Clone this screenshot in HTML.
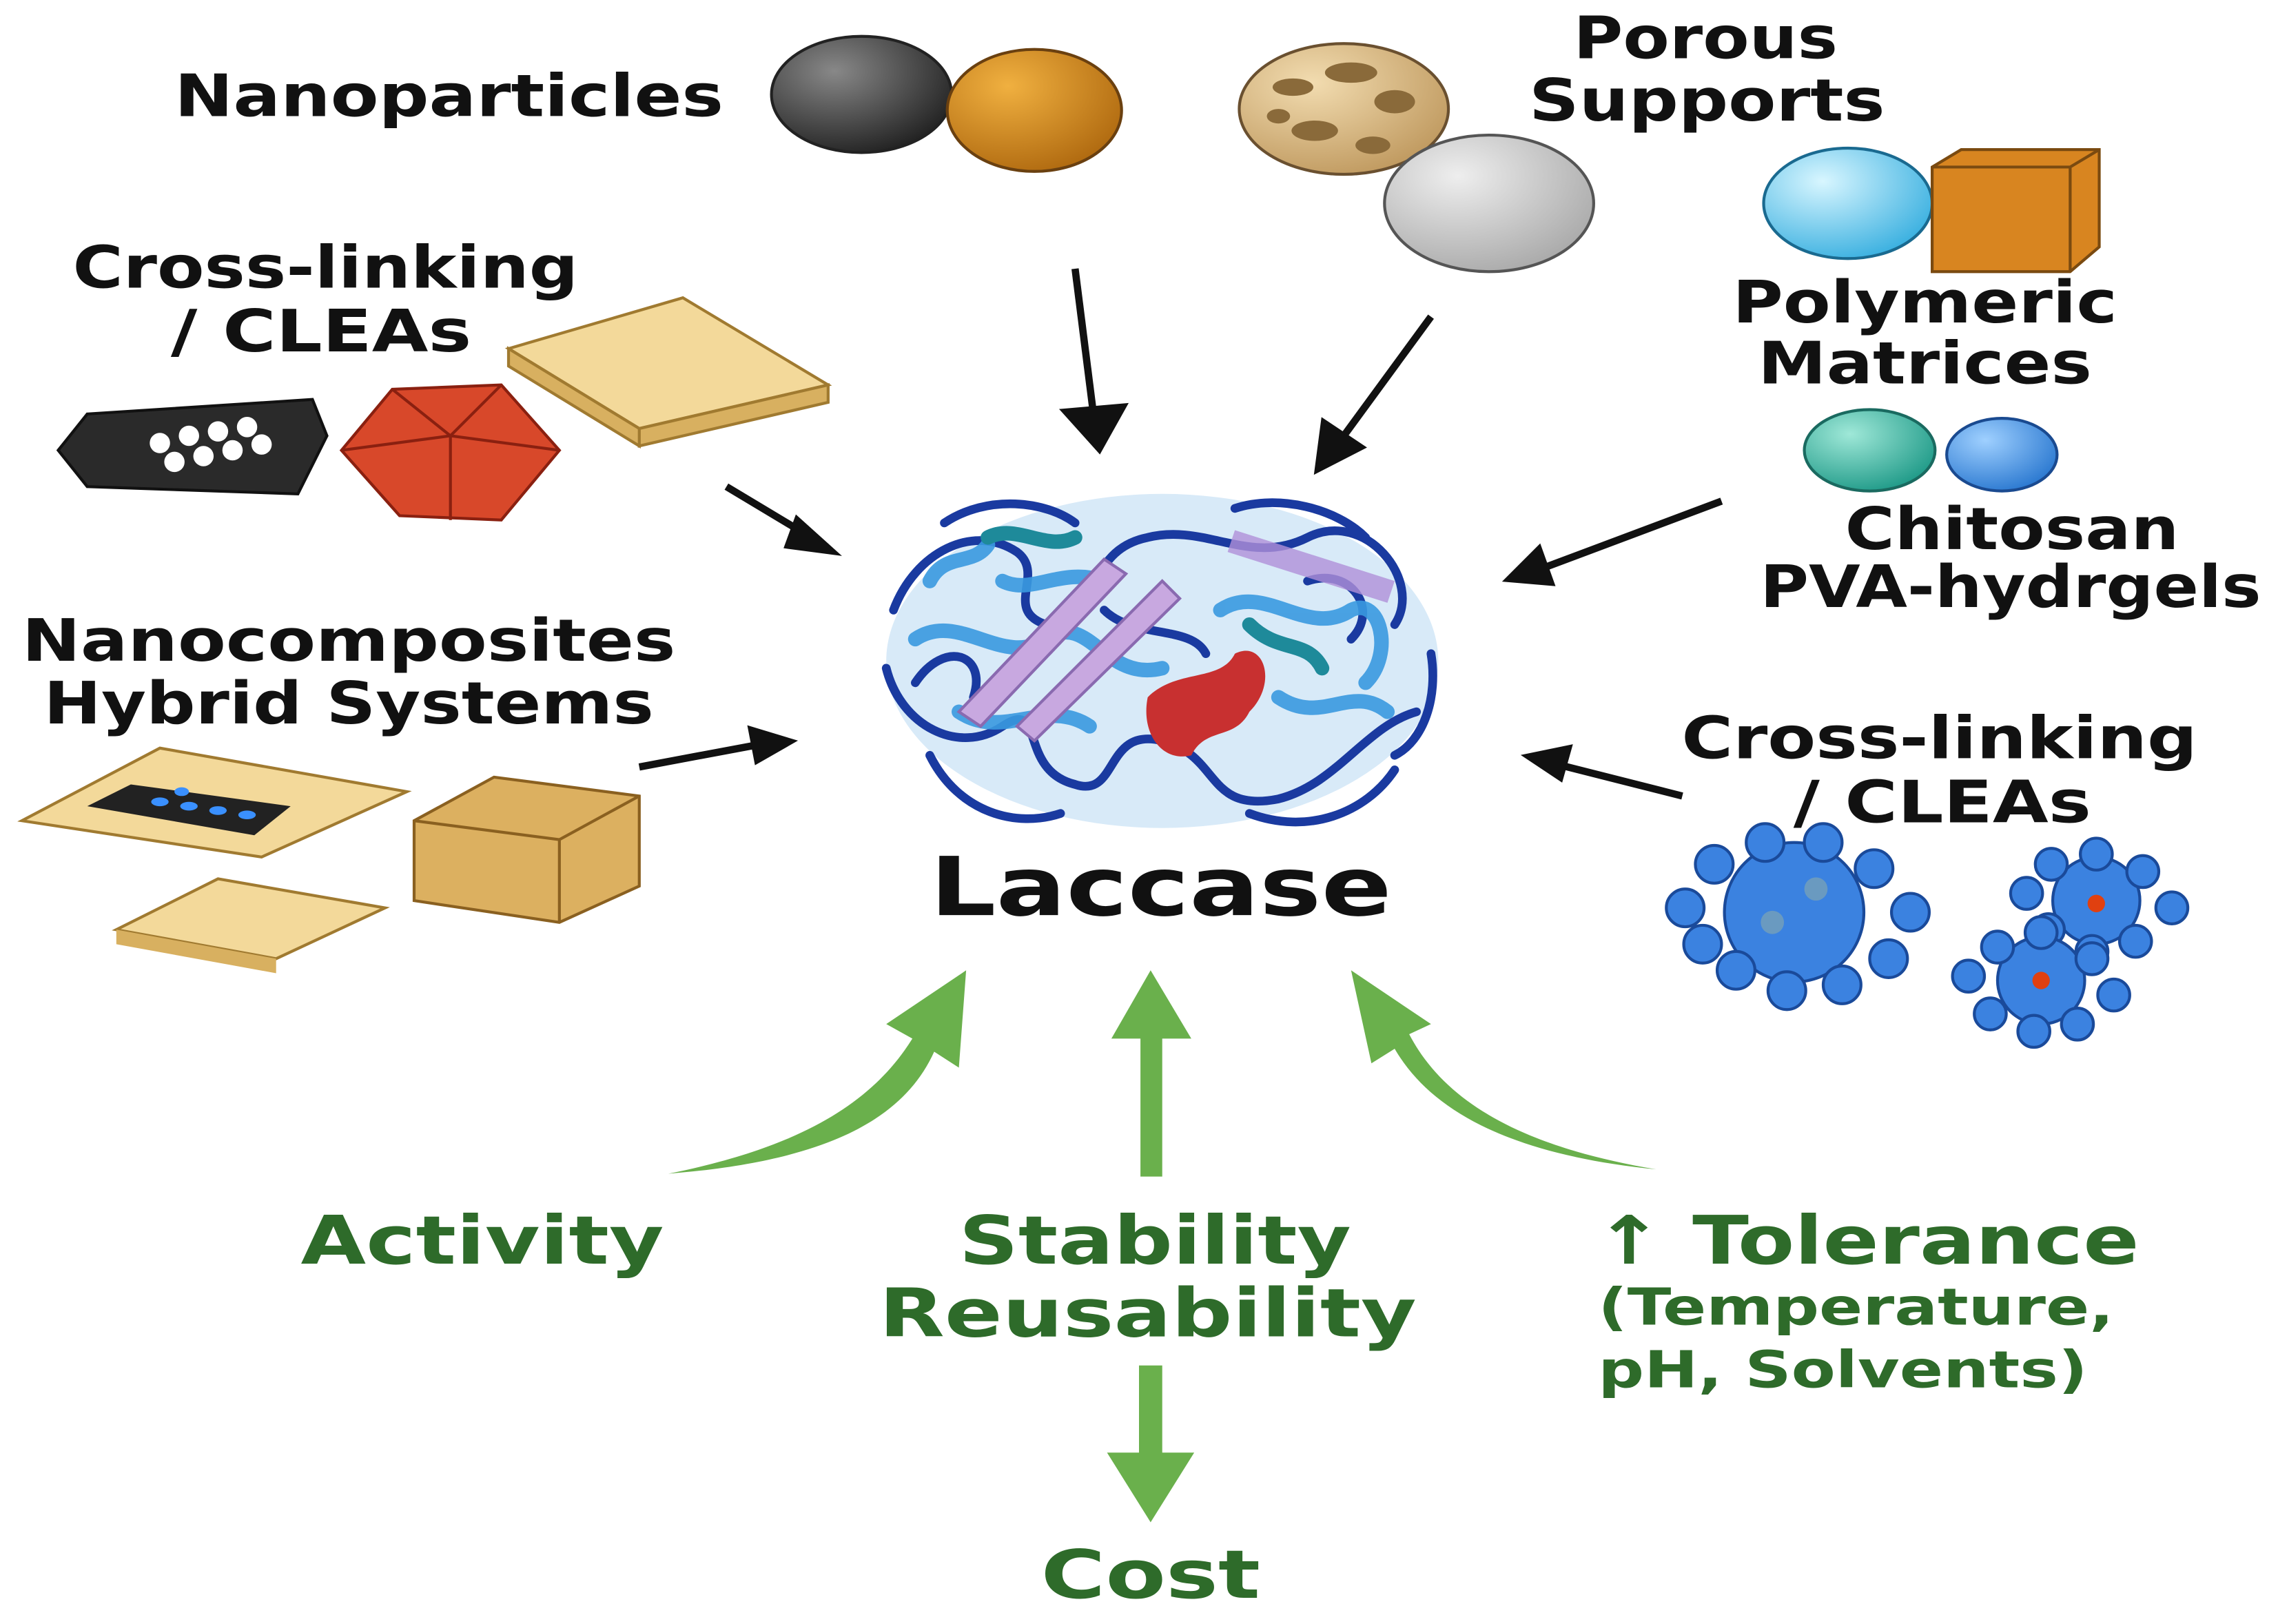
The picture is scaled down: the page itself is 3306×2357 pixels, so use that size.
<!DOCTYPE html>
<html><head><meta charset="utf-8"><style>
html,body{margin:0;padding:0;background:#fff;}
svg{display:block}
text{font-family:"DejaVu Sans","Liberation Sans",sans-serif;font-weight:bold;}
</style></head><body>
<svg width="3306" height="2357" viewBox="0 0 1568 1118" xmlns="http://www.w3.org/2000/svg">
<defs>
<radialGradient id="gd" cx="35%" cy="30%" r="75%"><stop offset="0" stop-color="#888"/><stop offset="1" stop-color="#222"/></radialGradient>
<radialGradient id="go" cx="35%" cy="30%" r="75%"><stop offset="0" stop-color="#f0b040"/><stop offset="1" stop-color="#b06a10"/></radialGradient>
<radialGradient id="gb" cx="35%" cy="30%" r="75%"><stop offset="0" stop-color="#f2dcb0"/><stop offset="1" stop-color="#c09a60"/></radialGradient>
<radialGradient id="gg" cx="35%" cy="30%" r="75%"><stop offset="0" stop-color="#eee"/><stop offset="1" stop-color="#aaa"/></radialGradient>
<radialGradient id="gc" cx="35%" cy="30%" r="75%"><stop offset="0" stop-color="#d8f6ff"/><stop offset="1" stop-color="#3ab0e0"/></radialGradient>
<radialGradient id="gt" cx="35%" cy="30%" r="75%"><stop offset="0" stop-color="#9fe8d8"/><stop offset="1" stop-color="#1f9a88"/></radialGradient>
<radialGradient id="gbl" cx="35%" cy="30%" r="75%"><stop offset="0" stop-color="#9fd0ff"/><stop offset="1" stop-color="#2a78d0"/></radialGradient>
</defs>

<g fill="#111" font-size="40" text-anchor="middle" lengthAdjust="spacingAndGlyphs">
<text x="309" y="80" textLength="378" lengthAdjust="spacingAndGlyphs">Nanoparticles</text>
<text x="1174" y="40" textLength="182" lengthAdjust="spacingAndGlyphs">Porous</text>
<text x="1175" y="83" textLength="245" lengthAdjust="spacingAndGlyphs">Supports</text>
<text x="1325" y="222" textLength="265" lengthAdjust="spacingAndGlyphs">Polymeric</text>
<text x="1325" y="264" textLength="230" lengthAdjust="spacingAndGlyphs">Matrices</text>
<text x="1385" y="378" textLength="230" lengthAdjust="spacingAndGlyphs">Chitosan</text>
<text x="1384" y="418" textLength="345" lengthAdjust="spacingAndGlyphs">PVA-hydrgels</text>
<text x="224" y="198" textLength="348" lengthAdjust="spacingAndGlyphs">Cross-linking</text>
<text x="221" y="242" textLength="207" lengthAdjust="spacingAndGlyphs">/ CLEAs</text>
<text x="240" y="455" textLength="450" lengthAdjust="spacingAndGlyphs">Nanocomposites</text>
<text x="240" y="498" textLength="420" lengthAdjust="spacingAndGlyphs">Hybrid Systems</text>
<text x="1335" y="522" textLength="355" lengthAdjust="spacingAndGlyphs">Cross-linking</text>
<text x="1337" y="566" textLength="205" lengthAdjust="spacingAndGlyphs">/ CLEAs</text>
<text x="799" y="630" font-size="56" textLength="318" lengthAdjust="spacingAndGlyphs">Laccase</text>
</g>

<ellipse cx="593" cy="65" rx="62" ry="40" fill="url(#gd)" stroke="#222" stroke-width="2"/>
<ellipse cx="712" cy="76" rx="60" ry="42" fill="url(#go)" stroke="#6a4010" stroke-width="2"/>
<ellipse cx="925" cy="75" rx="72" ry="45" fill="url(#gb)" stroke="#6a5030" stroke-width="2"/>
<g fill="#8a6a3a"><ellipse cx="890" cy="60" rx="14" ry="6"/><ellipse cx="930" cy="50" rx="18" ry="7"/><ellipse cx="960" cy="70" rx="14" ry="8"/><ellipse cx="905" cy="90" rx="16" ry="7"/><ellipse cx="945" cy="100" rx="12" ry="6"/><ellipse cx="880" cy="80" rx="8" ry="5"/></g>
<ellipse cx="1025" cy="140" rx="72" ry="47" fill="url(#gg)" stroke="#555" stroke-width="2"/>
<ellipse cx="1272" cy="140" rx="58" ry="38" fill="url(#gc)" stroke="#1a6a90" stroke-width="2"/>
<path d="M1330,115 L1350,103 L1445,103 L1445,170 L1425,187 L1330,187 Z" fill="#d88520" stroke="#7a4a10" stroke-width="2"/>
<path d="M1330,115 L1425,115 L1445,103 M1425,115 L1425,187" fill="none" stroke="#7a4a10" stroke-width="2"/>
<ellipse cx="1287" cy="310" rx="45" ry="28" fill="url(#gt)" stroke="#1a6a60" stroke-width="2"/>
<ellipse cx="1378" cy="313" rx="38" ry="25" fill="url(#gbl)" stroke="#1a4a90" stroke-width="2"/>

<path d="M60,285 L215,275 L225,300 L205,340 L60,335 L40,310 Z" fill="#2a2a2a" stroke="#111" stroke-width="2"/>
<g fill="#fff"><circle cx="110" cy="305" r="7"/><circle cx="130" cy="300" r="7"/><circle cx="150" cy="297" r="7"/><circle cx="170" cy="294" r="7"/><circle cx="120" cy="318" r="7"/><circle cx="140" cy="314" r="7"/><circle cx="160" cy="310" r="7"/><circle cx="180" cy="306" r="7"/></g>
<path d="M270,268 L345,265 L385,310 L345,358 L275,355 L235,310 Z" fill="#d8482a" stroke="#8a2010" stroke-width="2"/>
<path d="M270,268 L310,300 L345,265 M310,300 L235,310 M310,300 L385,310 M310,300 L310,358" stroke="#8a2010" fill="none" stroke-width="2"/>
<path d="M350,240 L470,205 L570,265 L440,295 Z" fill="#f3d99a" stroke="#a07a30" stroke-width="2"/>
<path d="M350,240 L440,295 L440,307 L350,252 Z M440,295 L570,265 L570,277 L440,307 Z" fill="#d8b060" stroke="#a07a30" stroke-width="2"/>

<path d="M15,565 L110,515 L280,545 L180,590 Z" fill="#f3d99a" stroke="#a07a30" stroke-width="2"/>
<path d="M60,555 L90,540 L200,555 L175,575 Z" fill="#222"/>
<g fill="#3a90ff"><ellipse cx="110" cy="552" rx="6" ry="3"/><ellipse cx="130" cy="555" rx="6" ry="3"/><ellipse cx="150" cy="558" rx="6" ry="3"/><ellipse cx="170" cy="561" rx="6" ry="3"/><ellipse cx="125" cy="545" rx="5" ry="3"/></g>
<path d="M285,565 L340,535 L440,548 L440,610 L385,635 L285,620 Z" fill="#dcb060" stroke="#8a6020" stroke-width="2"/>
<path d="M285,565 L385,578 L440,548 M385,578 L385,635" fill="none" stroke="#8a6020" stroke-width="2"/>
<path d="M80,640 L150,605 L265,625 L190,660 Z" fill="#f3d99a" stroke="#a07a30" stroke-width="2"/>
<path d="M80,640 L190,660 L190,670 L80,650 Z" fill="#d8b060"/>

<g fill="#3b82e0" stroke="#1a4a9a" stroke-width="2">
<circle cx="1235" cy="628" r="48"/>
<circle cx="1160" cy="625" r="13"/><circle cx="1180" cy="595" r="13"/><circle cx="1215" cy="580" r="13"/><circle cx="1255" cy="580" r="13"/><circle cx="1290" cy="598" r="13"/><circle cx="1315" cy="628" r="13"/><circle cx="1300" cy="660" r="13"/><circle cx="1268" cy="678" r="13"/><circle cx="1230" cy="682" r="13"/><circle cx="1195" cy="668" r="13"/><circle cx="1172" cy="650" r="13"/>
<circle cx="1443" cy="620" r="30"/>
<circle cx="1443" cy="588" r="11"/><circle cx="1475" cy="600" r="11"/><circle cx="1495" cy="625" r="11"/><circle cx="1470" cy="648" r="11"/><circle cx="1440" cy="655" r="11"/><circle cx="1410" cy="640" r="11"/><circle cx="1395" cy="615" r="11"/><circle cx="1412" cy="595" r="11"/>
<circle cx="1405" cy="675" r="30"/>
<circle cx="1405" cy="642" r="11"/><circle cx="1440" cy="660" r="11"/><circle cx="1455" cy="685" r="11"/><circle cx="1430" cy="705" r="11"/><circle cx="1400" cy="710" r="11"/><circle cx="1370" cy="698" r="11"/><circle cx="1355" cy="672" r="11"/><circle cx="1375" cy="652" r="11"/>
</g>
<circle cx="1250" cy="612" r="8" fill="#6a9ac0"/><circle cx="1220" cy="635" r="8" fill="#6a9ac0"/>
<circle cx="1443" cy="622" r="6" fill="#e04010"/><circle cx="1405" cy="675" r="6" fill="#e04010"/>

<g>
<ellipse cx="800" cy="455" rx="190" ry="115" fill="#d8eaf8"/>
<g fill="none" stroke="#1a3aa0" stroke-width="6" stroke-linecap="round">
<path d="M615,420 C630,380 670,360 700,380 C720,395 690,420 720,430 C760,440 740,380 790,370 C830,360 860,390 900,370 C940,350 980,400 960,430"/>
<path d="M610,460 C620,500 660,520 690,500 C720,480 700,530 740,540 C770,550 760,500 800,510 C840,520 830,560 880,550 C920,540 940,500 975,490"/>
<path d="M640,520 C660,560 700,570 730,560 M860,560 C900,575 940,560 960,530 M985,450 C990,480 980,510 960,520"/>
<path d="M650,360 C680,340 720,345 740,360 M850,350 C880,340 920,350 940,370"/>
<path d="M630,470 C650,440 680,450 670,480 M900,400 C930,390 950,420 930,440 M760,420 C780,440 820,430 830,450"/>
</g>
<g fill="none" stroke="#3a9ae0" stroke-width="10" stroke-linecap="round" opacity="0.9">
<path d="M630,440 C660,420 690,460 720,440 C750,420 760,470 800,460"/>
<path d="M840,420 C870,400 900,440 930,420 C950,410 960,450 940,470"/>
<path d="M660,490 C690,510 720,480 750,500 M880,480 C910,500 930,470 955,490"/>
<path d="M690,400 C710,410 730,390 760,400 M640,400 C650,380 670,390 680,375"/>
</g>
<g fill="none" stroke="#1e8a9a" stroke-width="10" stroke-linecap="round">
<path d="M680,370 C700,360 720,380 740,370 M860,430 C880,450 900,440 910,460"/>
</g>
<path d="M660,490 L760,385 L775,395 L675,500 Z" fill="#c8a8e0" stroke="#8a6ab0" stroke-width="2"/>
<path d="M700,500 L800,400 L812,412 L712,510 Z" fill="#c8a8e0" stroke="#8a6ab0" stroke-width="2"/>
<path d="M850,365 L960,400 L955,415 L845,380 Z" fill="#b090d8" opacity="0.8"/>
<path d="M790,480 C810,460 840,470 850,450 C870,440 880,470 860,490 C850,510 830,500 820,520 C800,525 785,505 790,480 Z" fill="#c83030"/>
</g>

<g fill="#111" stroke="#111">
<path d="M740,185 L752,280" stroke-width="5"/><path d="M730,282 L776,278 L757,312 Z"/>
<path d="M985,218 L925,300" stroke-width="5"/><path d="M910,288 L940,308 L905,326 Z"/>
<path d="M500,335 L555,368" stroke-width="5"/><path d="M548,355 L578,382 L540,377 Z"/>
<path d="M1185,345 L1065,390" stroke-width="5"/><path d="M1060,375 L1070,403 L1035,400 Z"/>
<path d="M440,528 L520,513" stroke-width="5"/><path d="M515,500 L548,510 L520,526 Z"/>
<path d="M1158,548 L1075,527" stroke-width="5"/><path d="M1082,513 L1048,520 L1075,538 Z"/>
</g>

<g fill="#6ab04c">
<path d="M460,808 C550,790 600,760 628,715 L610,705 L665,668 L660,735 L643,724 C620,775 560,800 460,808 Z"/>
<path d="M785,810 L785,715 L765,715 L792,668 L820,715 L800,715 L800,810 Z"/>
<path d="M1140,805 C1040,795 985,765 960,722 L944,732 L930,668 L985,705 L970,712 C995,760 1050,790 1140,805 Z"/>
<path d="M784,940 L800,940 L800,1000 L822,1000 L792,1048 L762,1000 L784,1000 Z"/>
</g>

<g fill="#2e6b2a" text-anchor="middle" font-size="46">
<text x="332" y="870" textLength="250" lengthAdjust="spacingAndGlyphs">Activity</text>
<text x="795" y="870" textLength="270" lengthAdjust="spacingAndGlyphs">Stability</text>
<text x="790" y="920" textLength="370" lengthAdjust="spacingAndGlyphs">Reusability</text>
<text x="1285" y="870" textLength="375" lengthAdjust="spacingAndGlyphs">↑ Tolerance</text>
<text x="1100" y="912" font-size="35" text-anchor="start" textLength="355" lengthAdjust="spacingAndGlyphs">(Temperature,</text>
<text x="1100" y="955" font-size="35" text-anchor="start" textLength="337" lengthAdjust="spacingAndGlyphs">pH, Solvents)</text>
<text x="792" y="1100" textLength="151" lengthAdjust="spacingAndGlyphs">Cost</text>
</g>
</svg>
</body></html>
